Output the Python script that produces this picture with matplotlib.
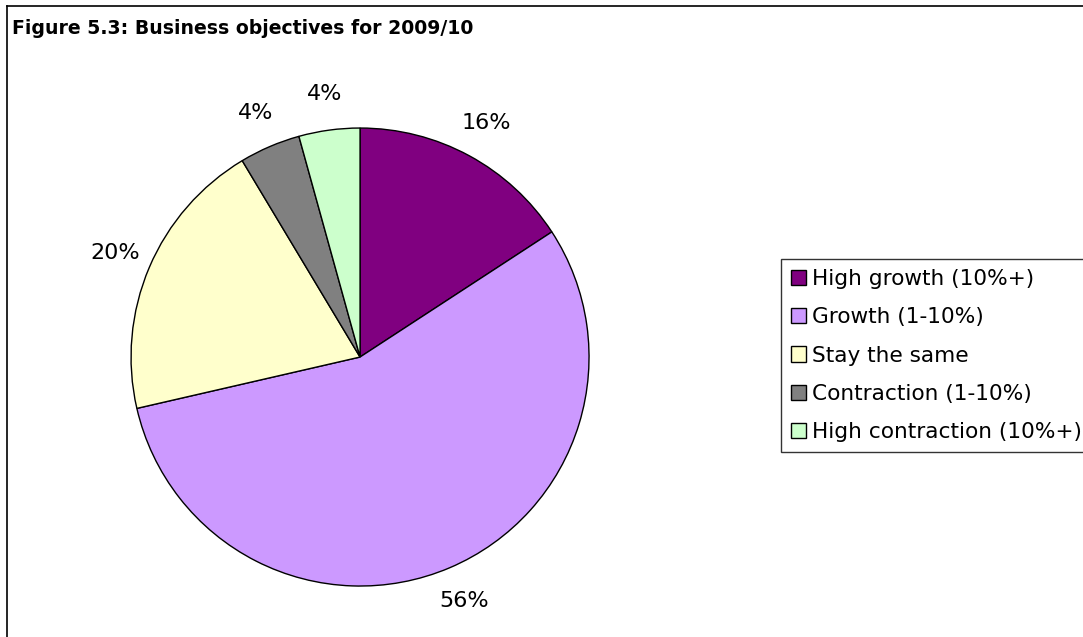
import numpy as np
import matplotlib
matplotlib.use("Agg")
import matplotlib.pyplot as plt
from matplotlib.lines import Line2D

# survey shares (%), clockwise from 12 o'clock
categories = ["High growth (10%+)", "Growth (1-10%)", "Stay the same",
              "Contraction (1-10%)", "High contraction (10%+)"]
shares = [15.8, 55.6, 20.0, 4.3, 4.3]
colours = ["#800080", "#CC99FF", "#FFFFCC", "#808080", "#CCFFCC"]

plt.rcParams["font.family"] = ["DejaVu Sans"]

W, H = 1083, 637
fig = plt.figure(figsize=(W / 100, H / 100), dpi=100)

# chart frame: left and top edges
fig.lines.append(Line2D([6.5 / W, 6.5 / W], [0, 1 - 5.5 / H], transform=fig.transFigure,
                        color="black", linewidth=1.2))
fig.lines.append(Line2D([6.5 / W, 1], [1 - 5.5 / H, 1 - 5.5 / H], transform=fig.transFigure,
                        color="black", linewidth=1.2))

fig.text(12 / W, 1 - 28 / H, "Figure 5.3: Business objectives for 2009/10",
         fontsize=13.6, fontweight="bold", ha="left", va="center")

ax = fig.add_axes([0.121, 0.080, 0.4229, 0.719])
wedges, _ = ax.pie(shares, colors=colours, startangle=90, counterclock=False,
                   radius=1.0, wedgeprops=dict(edgecolor="black", linewidth=1.0))
ax.set_xlim(-1, 1)
ax.set_ylim(-1, 1)
ax.set_aspect("equal")
ax.axis("off")

# percentage labels just outside each wedge
for w, v in zip(wedges, shares):
    mid = np.deg2rad((w.theta1 + w.theta2) / 2)
    r = 1.16
    ax.text(r * np.cos(mid), r * np.sin(mid), f"{v:.0f}%", ha="center", va="center",
            fontsize=16, clip_on=False)

leg = fig.legend(wedges, categories, loc="upper left",
                 bbox_to_anchor=(781 / W, 1 - 259 / H),
                 fontsize=15.6, frameon=True, fancybox=False, shadow=False,
                 handlelength=0.7, handleheight=0.7, handletextpad=0.3,
                 labelspacing=0.85, borderpad=0.45, borderaxespad=0.0)
leg.get_frame().set_edgecolor("black")
leg.get_frame().set_linewidth(1.0)

fig.savefig("out.png", dpi=100)
